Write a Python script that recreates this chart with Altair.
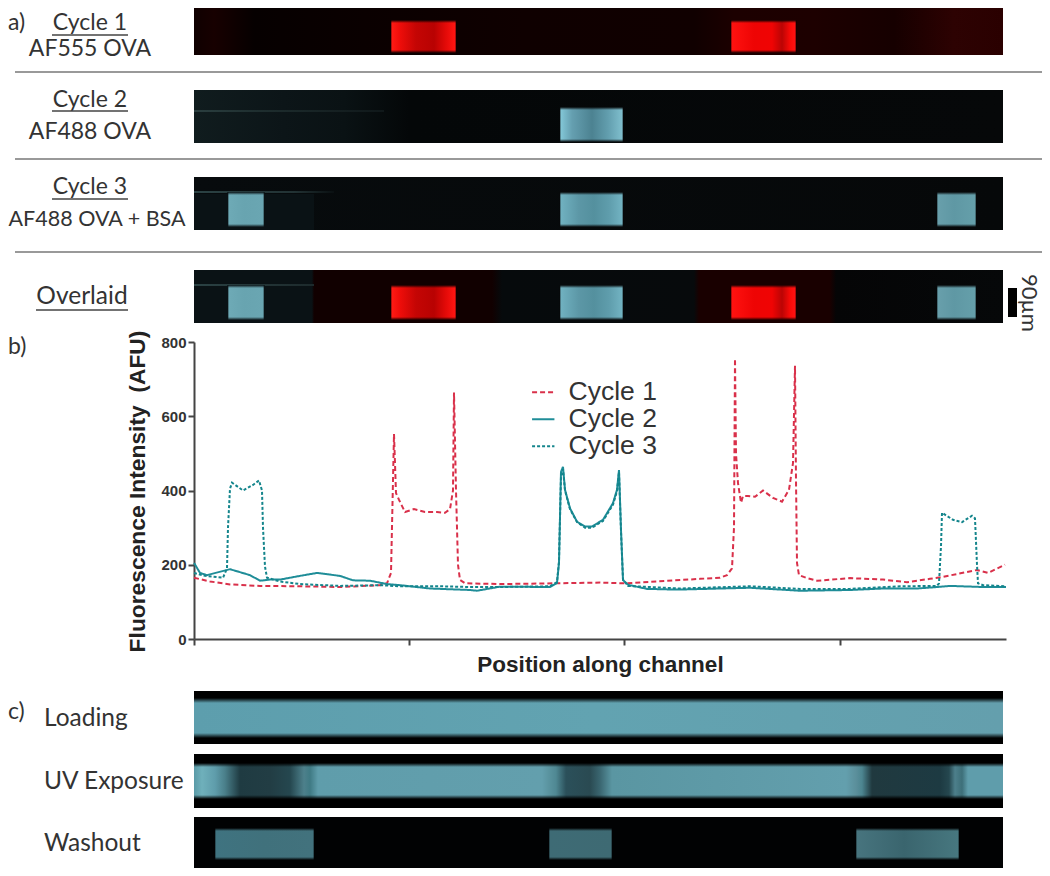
import altair as alt
import pandas as pd

# ---------- line profiles: position along channel, AFU ----------
cycle1_pos = [0,16,36,66,106,146,186,193,197,200,202,205,211,220,231,243,251,256,259,260,262,264,266,271,
              306,361,406,431,456,506,526,533,538,540,541,542,544,547,549,554,561,569,579,588,595,599,601,602,603,605,613,623,656,689,713,736,748,763,783,794,811]
cycle1_afu = [165,155,147,143,142,140,145,150,178,552,393,375,342,350,342,342,340,350,400,664,400,200,159,150,
              148,150,152,150,154,162,165,172,190,300,755,500,420,367,385,385,383,400,380,370,402,474,736,428,205,172,164,157,164,160,153,162,167,175,186,178,200]
cycle2_pos = [0,6,13,36,56,66,76,86,106,123,146,159,176,193,206,236,276,283,306,356,363,365,367,369,371,376,383,391,398,409,419,423,425,427,429,434,453,483,556,606,656,689,723,743,756,789,812]
cycle2_afu = [205,178,172,188,172,157,160,160,170,178,170,158,157,148,145,136,132,130,141,140,151,205,450,464,402,352,316,303,303,321,366,402,455,294,159,146,135,133,138,130,132,136,136,140,143,140,140]
cycle3_pos = [0,11,19,29,33,34,36,38,49,59,65,68,69,71,73,86,106,146,186,206,246,276,306,356,363,365,367,369,371,376,383,391,398,409,419,423,425,427,429,434,486,556,606,656,706,743,745,747,748,759,768,778,781,783,784,789,812]
cycle3_afu = [178,170,168,165,190,300,405,421,400,415,427,400,300,195,165,155,148,143,145,142,142,140,140,142,153,210,440,458,400,350,315,300,300,318,362,398,450,290,160,143,136,142,135,135,142,143,150,250,340,321,315,332,325,200,150,145,142]
x_ticks = [0, 215, 430, 646]
series_names = ["Cycle 1", "Cycle 2", "Cycle 3"]
series_colors = ["#d9304a", "#1f8d98", "#14858c"]
series_dash = [[5, 3], [1, 0], [3, 2]]

lines = pd.concat([
    pd.DataFrame({"pos": cycle1_pos, "afu": cycle1_afu, "name": "Cycle 1", "ord": 0}),
    pd.DataFrame({"pos": cycle2_pos, "afu": cycle2_afu, "name": "Cycle 2", "ord": 1}),
    pd.DataFrame({"pos": cycle3_pos, "afu": cycle3_afu, "name": "Cycle 3", "ord": 2}),
])

W, H = 1034, 860
X = alt.X("x0:Q", scale=alt.Scale(domain=[0, 812], range=[186, 998]), axis=None)
Yf = alt.Y("y0:Q", scale=alt.Scale(domain=[8, 868], range=[0, 860]), axis=None)


def grad(stops, horizontal=True):
    """stops: list of (position along rect 0-1, colour)."""
    kw = dict(x1=0, x2=1, y1=0, y2=0) if horizontal else dict(x1=0, x2=0, y1=0, y2=1)
    return alt.LinearGradient(gradient="linear",
                              stops=[alt.GradientStop(offset=o, color=c) for o, c in stops], **kw)


def box(x0, x1, y0, y1, fill):
    d = pd.DataFrame({"x0": [x0], "x1": [x1], "y0": [y0], "y1": [y1]})
    return alt.Chart(d).mark_rect(fill=fill).encode(
        x=X, x2="x1:Q", y=Yf, y2="y1:Q")


def hprofile(x0, x1, y0, y1, pts):
    """pts: (position along channel, colour)"""
    span = x1 - x0
    return box(x0, x1, y0, y1, grad([((p - x0) / span, c) for p, c in pts]))


def block(x0, x1, y0, y1, pts, bg="#050505"):
    """bright patch with soft rims"""
    span = x1 - x0
    rim = 1.5
    stops = [(0, bg)] + [((p - x0 + rim) / (span + 2 * rim), c) for p, c in pts] + [(1, bg)]
    out = [box(x0 - rim, x1 + rim, y0, y1, grad(stops))]
    tb = bg + "00"
    out.append(box(x0 - rim, x1 + rim, y0, y0 + 3, grad([(0, bg), (1, tb)], horizontal=False)))
    out.append(box(x0 - rim, x1 + rim, y1 - 3, y1, grad([(0, tb), (1, bg)], horizontal=False)))
    return out


def wall(x0, x1, y0, y1, rev=False):
    s = [(0, "#000000"), (1, "#00000000")]
    if rev:
        s = [(0, "#00000000"), (1, "#000000")]
    return box(x0, x1, y0, y1, grad(s, horizontal=False))


L, R = 0, 809
rows = [(2, 55), (90, 143), (177, 230), (270, 323)]
red_a = [(198, "#ff1a14"), (206, "#ee0d0a"), (222, "#c40504"), (240, "#b80202"), (252, "#e40a08"), (261, "#ff1512")]
red_b = [(538, "#ff1210"), (560, "#ee0404"), (578, "#f00404"), (588, "#bb0404"), (596, "#f80a08"), (601, "#ff1212")]
cy_mid = [(367, "#82c6d6"), (378, "#659fb0"), (398, "#4c8291"), (414, "#629eae"), (428, "#7fbecd")]
cy_mid3 = [(367, "#70b1c0"), (385, "#5c97a6"), (400, "#54909e"), (415, "#5f9dac"), (428, "#72b3c2")]
cy_a = [(35, "#6eaab6"), (50, "#68a4b0"), (69, "#6aa6b2")]
cy_c = [(744, "#689fab"), (760, "#5f98a4"), (781, "#659faa")]

m = []
# strip 1
m.append(hprofile(L, R, *rows[0], [(0, "#0f0000"), (20, "#170000"), (60, "#060000"), (170, "#0a0000"), (330, "#0f0000"),
                                   (500, "#100000"), (540, "#1c0000"), (620, "#1d0000"), (700, "#160000"), (760, "#2d0202"), (809, "#2a0000")]))
m += block(198, 261, 20, 53, red_a, "#0c0000")
m += block(538, 601, 20, 53, red_b, "#100000")
# strip 2
m.append(hprofile(L, R, *rows[1], [(0, "#101c1e"), (90, "#0c1518"), (150, "#0a1214"), (215, "#040708"), (809, "#060809")]))
m.append(hprofile(L, 190, 110, 112, [(0, "#2b3f40"), (60, "#1f2f30"), (190, "#10181a")]))
m += block(367, 428, 107, 142, cy_mid, "#060809")
# strip 3
m.append(hprofile(L, R, *rows[2], [(0, "#070b0d"), (809, "#060809")]))
m.append(box(L, 120, 194, 230, "#0a1215"))
m.append(hprofile(L, 140, 191, 193, [(0, "#2b4244"), (100, "#223234"), (140, "#0a1012")]))
m += block(35, 69, 192, 227, cy_a, "#0a1215")
m += block(367, 428, 192, 227, cy_mid3, "#060809")
m += block(744, 781, 192, 227, cy_c, "#060809")
# strip 4
m.append(hprofile(L, R, *rows[3], [(0, "#0a1215"), (118, "#0a1215"), (120, "#110000"), (298, "#110000"), (308, "#060a0c"), (500, "#070a0c"),
                                   (505, "#190000"), (636, "#190000"), (642, "#050506"), (809, "#060809")]))
m.append(hprofile(L, 120, 284, 286, [(0, "#2b4244"), (120, "#1d2a2c")]))
m += block(35, 69, 285, 320, cy_a, "#0a1215")
m += block(198, 261, 285, 320, red_a, "#110000")
m += block(367, 428, 285, 320, cy_mid3, "#060809")
m += block(538, 601, 285, 320, red_b, "#190000")
m += block(744, 781, 285, 320, cy_c, "#060809")

# panel c
m.append(hprofile(L, R, 691, 744, [(0, "#5d9ead"), (400, "#62a3b1"), (809, "#649fad")]))
m.append(box(L, R, 691, 698, "#000000"))
m.append(wall(L, R, 698, 703))
m.append(box(L, R, 738, 744, "#000000"))
m.append(wall(L, R, 733, 738, True))
m.append(hprofile(L, R, 754, 808, [(0, "#5a9aa7"), (8, "#6fb0bb"), (21, "#5f9dab"), (31, "#4a7f8a"), (46, "#1f3b42"), (76, "#223d44"),
                                   (96, "#25474f"), (110, "#4d808b"), (116, "#3f7a84"), (124, "#5f9dab"), (348, "#639fad"), (354, "#5b95a1"),
                                   (362, "#4f8893"), (372, "#2b505a"), (396, "#2a4a52"), (406, "#3a6670"), (418, "#5a96a2"), (652, "#639fad"),
                                   (662, "#5b8f9b"), (668, "#4c8590"), (678, "#20393f"), (746, "#1d3a42"), (755, "#25474f"), (761, "#4d7f8b"),
                                   (768, "#3d6f79"), (774, "#5f9dab"), (809, "#5f9dab")]))
m.append(box(L, R, 754, 763, "#000000"))
m.append(wall(L, R, 763, 767))
m.append(box(L, R, 799, 808, "#000000"))
m.append(wall(L, R, 795, 799, True))
m.append(box(L, R, 817, 868, "#010203"))
m += block(22, 119, 828, 860, [(22, "#3f7380"), (70, "#40717c"), (119, "#42727d")], "#010203")
m += block(356, 417, 828, 860, [(356, "#3e6b75"), (417, "#3e6a73")], "#010203")
m += block(663, 764, 828, 860, [(663, "#47747e"), (710, "#3a656e"), (764, "#47777f")], "#010203")

# scale bar
m.append(box(814, 823, 288, 317, "#000000"))


def txt(s, px, py, size=23, align="center", font="Lato", weight="normal", angle=0, color="#333333"):
    d = pd.DataFrame({"t": [s]})
    return alt.Chart(d).mark_text(align=align, baseline="middle", fontSize=size, font=font, fontWeight=weight,
                                  angle=angle, color=color).encode(
        x=alt.value(px - 8), y=alt.value(py - 8), text="t:N")


def hline(x0, x1, y, color, w):
    d = pd.DataFrame({"y0": [y]})
    return alt.Chart(d).mark_rule(color=color, strokeWidth=w).encode(
        x=alt.value(x0 - 8), x2=alt.value(x1 - 8), y=Yf)


labels = [
    txt("a)", 8, 23, align="left"), txt("b)", 8, 347, align="left"), txt("c)", 8, 712, align="left"),
    txt("Cycle 1", 90, 23), txt("AF555 OVA", 90, 49),
    txt("Cycle 2", 90, 100), txt("AF488 OVA", 90, 132),
    txt("Cycle 3", 90, 187), txt("AF488 OVA + BSA", 97, 220, size=21.5),
    txt("Overlaid", 82, 297, size=24.5),
    txt("Loading", 44, 719, align="left", size=24.5), txt("UV Exposure", 44, 782, align="left", size=24.5),
    txt("Washout", 44, 844, align="left", size=24.5),
    txt("90µm", 1029, 303, size=22, angle=90),
    hline(52, 128, 35, "#444444", 1.3), hline(52, 128, 111, "#444444", 1.3), hline(52, 128, 199, "#444444", 1.3),
    hline(36, 128, 310, "#444444", 1.3),
    hline(15, 1042, 72, "#777777", 1.6), hline(15, 1042, 159, "#777777", 1.6), hline(15, 1042, 252, "#777777", 1.6),
]

figure = alt.layer(*m, *labels)

line_chart = alt.Chart(lines).mark_line(strokeWidth=2, interpolate="linear").encode(
    x=alt.X("pos:Q", scale=alt.Scale(domain=[0, 812], range=[186, 998]),
            axis=alt.Axis(values=x_ticks, labels=False, orient="bottom", offset=631 - H, tickSize=6, tickWidth=2,
                          tickColor="#444444", domainColor="#444444", domainWidth=2, grid=False,
                          title="Position along channel", titleFont="Liberation Sans", titleFontSize=22.5,
                          titleFontWeight="bold", titleColor="#222222", titlePadding=7, titleX=592)),
    y=alt.Y("afu:Q", scale=alt.Scale(domain=[0, 800], range=[631, 334]),
            axis=alt.Axis(values=[0, 200, 400, 600, 800], orient="left", offset=-186, tickSize=6, tickWidth=2,
                          tickColor="#444444", domainColor="#444444", domainWidth=2, grid=False,
                          labelFont="Liberation Sans", labelFontWeight="bold", labelFontSize=15, labelColor="#333333",
                          title="Fluorescence\u00a0Intensity\u00a0\u00a0(AFU)", titleFont="Liberation Sans", titleFontSize=22.8,
                          titleFontWeight="bold", titleColor="#222222", titlePadding=11, titleY=483)),
    color=alt.Color("name:N", scale=alt.Scale(domain=series_names, range=series_colors),
                    legend=alt.Legend(orient="none", legendX=522, legendY=371, title=None, symbolType="stroke",
                                      symbolSize=500, symbolStrokeWidth=2, labelFontSize=26.5,
                                      labelFont="Liberation Sans", labelColor="#333333", rowPadding=-2.2, labelOffset=12)),
    strokeDash=alt.StrokeDash("name:N", scale=alt.Scale(domain=series_names, range=series_dash)),
    order="ord:Q",
    detail="name:N",
)

chart = alt.layer(line_chart, figure).resolve_scale(y="independent").resolve_axis(x="independent").properties(
    width=W, height=H, padding=0, autosize=alt.AutoSizeParams(type="none"),
    background="#ffffff",
).configure_view(stroke=None)

chart.save("out.html", embed_options={"renderer": "svg", "actions": False})
